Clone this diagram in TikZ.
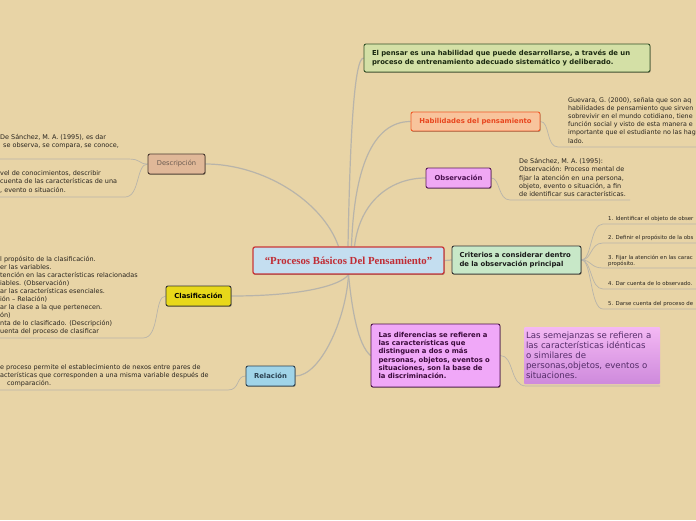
\documentclass[tikz,border=0pt]{standalone}
\usepackage{fontspec}
\setmainfont{DejaVu Sans}
\newfontfamily\titlefont{Liberation Serif}
\usetikzlibrary{shadows,backgrounds}
\definecolor{bg}{RGB}{232,212,166}
\definecolor{linkc}{RGB}{184,180,170}
\definecolor{leaftext}{RGB}{40,36,30}
\definecolor{cfill}{RGB}{196,222,240}
\definecolor{cdraw}{RGB}{200,56,58}
\definecolor{ctext}{RGB}{192,44,52}
\definecolor{gfill}{RGB}{212,224,166}
\definecolor{gdraw}{RGB}{52,82,40}
\definecolor{gtext}{RGB}{26,40,16}
\definecolor{hfill}{RGB}{248,196,156}
\definecolor{hdraw}{RGB}{240,90,40}
\definecolor{htext}{RGB}{232,70,30}
\definecolor{ofill}{RGB}{240,168,244}
\definecolor{odraw}{RGB}{90,26,90}
\definecolor{otext}{RGB}{74,16,80}
\definecolor{crfill}{RGB}{200,232,200}
\definecolor{crdraw}{RGB}{50,50,50}
\definecolor{dfill}{RGB}{240,168,248}
\definecolor{ddraw}{RGB}{74,16,74}
\definecolor{dtext}{RGB}{58,10,58}
\definecolor{stop}{RGB}{244,184,244}
\definecolor{sbot}{RGB}{206,138,220}
\definecolor{stext}{RGB}{84,44,104}
\definecolor{defill}{RGB}{224,184,152}
\definecolor{dedraw}{RGB}{74,58,48}
\definecolor{detext}{RGB}{106,90,80}
\definecolor{clfill}{RGB}{232,216,26}
\definecolor{rfill}{RGB}{160,212,232}
\definecolor{rdraw}{RGB}{42,64,80}
\begin{document}
\begin{tikzpicture}[x=1pt,y=-1pt,
  box/.style={draw, rounded corners=2pt, line width=0.9pt, inner sep=0pt,
    drop shadow={shadow xshift=0.6pt, shadow yshift=-0.9pt, opacity=0.35, fill=black}},
  boldsm/.style={font=\bfseries\fontsize{6.85}{9}\selectfont},
  leaf/.style={anchor=north west, inner sep=0pt, align=left, text=leaftext,
    font=\fontsize{6.45}{8.2}\selectfont},
  critleaf/.style={anchor=north west, inner sep=0pt, align=left, text=leaftext,
    font=\fontsize{5.4}{5.4}\selectfont},
  mainlink/.style={draw=linkc, line width=1.2pt},
  leaflink/.style={draw=linkc, line width=0.7pt}]
\useasboundingbox (0,0) rectangle (696,520);

% ---------- nodes ----------
\node[box, fill=cfill, draw=cdraw, line width=1.3pt, minimum width=191pt, minimum height=27pt,
  text=ctext, font=\titlefont\bfseries\fontsize{10.8}{12}\selectfont] (c) at (348.5,260.5)
  {“Procesos Básicos Del Pensamiento”};

\node[box, fill=gfill, draw=gdraw, minimum width=286pt, minimum height=28pt, text width=270pt,
  align=left, text=gtext, boldsm] (g) at (507,58)
  {El pensar es una habilidad que puede desarrollarse, a través de un\\proceso de entrenamiento adecuado sistemático y deliberado.};

\node[box, fill=hfill, draw=hdraw, minimum width=129pt, minimum height=19pt, text=htext, boldsm] (hab) at (475.5,121.5)
  {Habilidades del pensamiento};

\node[box, fill=ofill, draw=odraw, minimum width=65pt, minimum height=20pt, text=otext, boldsm] (obs) at (458.5,178)
  {Observación};

\node[box, fill=crfill, draw=crdraw, minimum width=129pt, minimum height=28pt, text width=114pt,
  align=left, text=black!90, boldsm] (crit) at (516.5,260)
  {Criterios a considerar dentro\\de la observación principal};

\node[box, fill=dfill, draw=ddraw, minimum width=129pt, minimum height=63pt, text width=114pt,
  align=left, text=dtext, font=\bfseries\fontsize{6.85}{8.3}\selectfont] (dif) at (435.5,355.5)
  {Las diferencias se refieren a\\las características que\\distinguen a dos o más\\personas, objetos, eventos o\\situaciones, son la base de\\la discriminación.};

\node[rounded corners=1pt, top color=stop, bottom color=sbot, minimum width=136pt, minimum height=57pt,
  text width=132pt, inner sep=0pt, align=left, text=stext, font=\fontsize{8.6}{9.9}\selectfont] (sem) at (592,355.5)
  {Las semejanzas se refieren a\\las características idénticas\\o similares de\\personas,objetos, eventos o\\situaciones.};

\node[box, fill=defill, draw=dedraw, minimum width=57pt, minimum height=20pt, text=detext,
  font=\fontsize{6.7}{8}\selectfont] (desc) at (176.5,164) {Descripción};

\node[box, fill=clfill, draw=crdraw, minimum width=65pt, minimum height=20pt, text=black, boldsm] (clas) at (198.5,296)
  {Clasificación};

\node[box, fill=rfill, draw=rdraw, minimum width=49pt, minimum height=20pt, text=rdraw, boldsm] (rel) at (270.5,376)
  {Relación};

% ---------- leaf texts ----------
\node[leaf] (descU) at (0,134) {De Sánchez, M. A. (1995), es dar};
\node[leaf] (descU2) at (3,142.2) {se observa, se compara, se conoce,};
\node[leaf] (descL) at (0,170.5) {vel de conocimientos, describir\\cuenta de las características de una\\, evento o situación.};
\node[leaf, font=\fontsize{6.45}{8}\selectfont] (clasT) at (0,256.3)
  {l propósito de la clasificación.\\er las variables.\\tención en las características relacionadas\\iables. (Observación)\\ar las características esenciales.\\ión – Relación)\\ar la clase a la que pertenecen.\\ón)\\nta de lo clasificado. (Descripción)\\uenta del proceso de clasificar};
\node[leaf, font=\fontsize{6.45}{7.8}\selectfont] (relT) at (0,364.7)
  {e proceso permite el establecimiento de nexos entre pares de\\acterísticas que corresponden a una misma variable después de};
\node[leaf] (relT2) at (7,380.3) {comparación.};
\node[leaf, font=\fontsize{6.35}{8.2}\selectfont] (habT) at (568,97)
  {Guevara, G. (2000), señala que son aq\\habilidades de pensamiento que sirven\\sobrevivir en el mundo cotidiano, tiene\\función social y visto de esta manera e\\importante que el estudiante no las hag\\lado.};
\node[leaf, font=\fontsize{6.45}{8.4}\selectfont] (obsT) at (519,158)
  {De Sánchez, M. A. (1995):\\Observación: Proceso mental de\\fijar la atención en una persona,\\objeto, evento o situación, a fin\\de identificar sus características.};
\node[critleaf] (k1) at (608,216.5) {1. Identificar el objeto de obser};
\node[critleaf] (k2) at (608,235) {2. Definir el propósito de la obs};
\node[critleaf] (k3) at (608,254.5) {3. Fijar la atención en las carac\\propósito.};
\node[critleaf] (k4) at (608,281.5) {4. Dar cuenta de lo observado.};
\node[critleaf] (k5) at (608,301.5) {5. Darse cuenta del proceso de};

% ---------- free ends ----------
\coordinate (eDU) at (0,159);
\coordinate (eDL) at (0,197);
\coordinate (eCl) at (0,338);
\coordinate (eRe) at (0,390);
\coordinate (eHa) at (696,147);
\coordinate (eOb) at (630,200);
\coordinate (eSe) at (660,386);

% ---------- connectors ----------
\begin{scope}[on background layer]
\fill[bg] (0,0) rectangle (696,520);
\draw[mainlink] ([xshift=-0.5pt]c.north) .. controls (350,140) and (354,58) .. (g.west);
\draw[mainlink] ([xshift=3pt]c.north) .. controls (354,170) and (372,121.5) .. (hab.west);
\draw[mainlink] ([xshift=6pt]c.north) .. controls (360,200) and (392,178) .. (obs.west);
\draw[mainlink] ([xshift=-10pt]c.north) .. controls (322,200) and (262,164) .. (desc.east);
\draw[mainlink] (c.east) -- (crit.west);
\draw[mainlink] (c.south) .. controls (340,286) and (300,296) .. (clas.east);
\draw[mainlink] (c.south) .. controls (346,320) and (320,376) .. (rel.east);
\draw[mainlink] (c.south) .. controls (352,310) and (358,345) .. (dif.west);
\draw[leaflink] (dif.east) .. controls (514,355.5) and (510,386) .. (526,386) -- (eSe);
\draw[leaflink] (desc.west) .. controls (138,164) and (142,159) .. (128,159) -- (eDU);
\draw[leaflink] (desc.west) .. controls (136,164) and (140,197) .. (125,197) -- (eDL);
\draw[leaflink] (clas.west) .. controls (154,296) and (160,338) .. (143,338) -- (eCl);
\draw[leaflink] (rel.west) .. controls (236,376) and (240,390) .. (228,390) -- (eRe);
\draw[leaflink] (hab.east) .. controls (550,121.5) and (546,147) .. (558,147) -- (eHa);
\draw[leaflink] (obs.east) .. controls (500,178) and (498,200) .. (510,200) -- (eOb);
\foreach \yy/\nm in {224/k1,243/k2,268/k3,289/k4,309/k5}{
  \draw[leaflink] (crit.east) .. controls (592,260) and (590,\yy) .. (603,\yy) -- (696,\yy);
}
\end{scope}
\end{tikzpicture}
\end{document}
